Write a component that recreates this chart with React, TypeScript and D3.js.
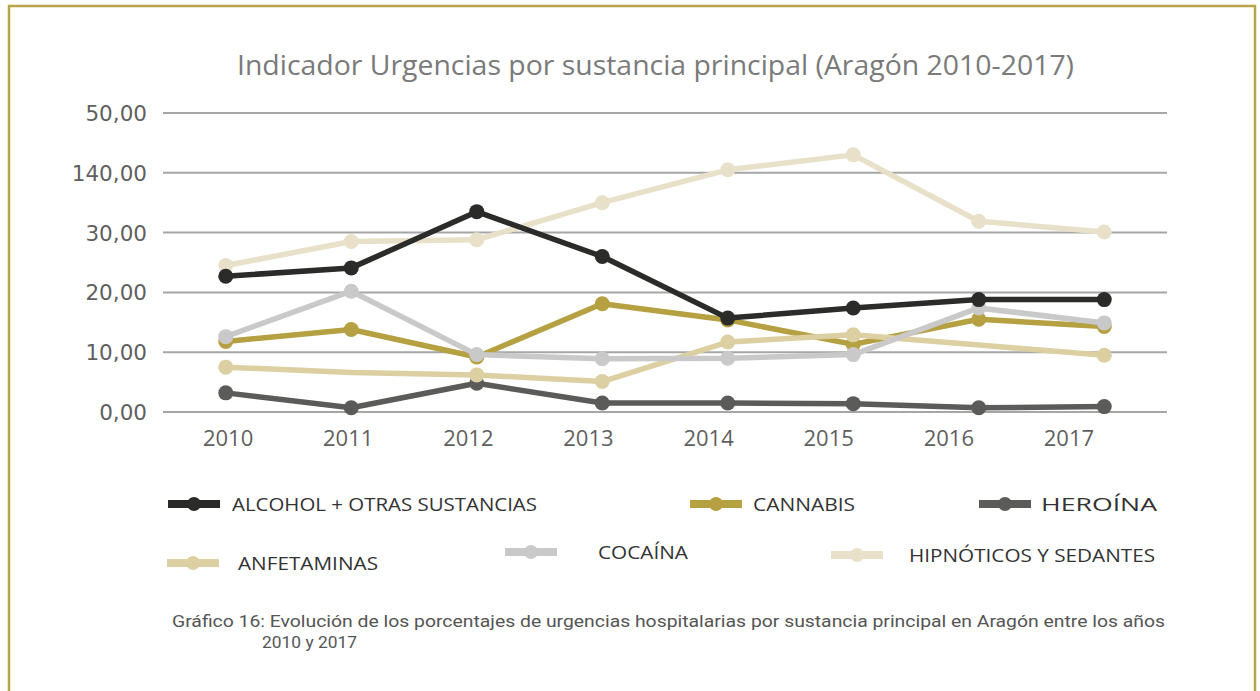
import React from "react";
import * as d3 from "d3";

const years = ["2010", "2011", "2012", "2013", "2014", "2015", "2016", "2017"];
const yTickValues = [0, 10, 20, 30, 40, 50];
const yTickLabels = ["0,00", "10,00", "20,00", "30,00", "140,00", "50,00"];

const alcohol = [22.7, 24.1, 33.5, 26.0, 15.7, 17.4, 18.8, 18.8];
const cannabis = [11.8, 13.8, 9.2, 18.1, 15.4, 11.3, 15.5, 14.3];
const heroina = [3.2, 0.7, 4.8, 1.5, 1.5, 1.4, 0.7, 0.9];
const anfetaminas = [7.5, 6.6, 6.2, 5.1, 11.7, 12.9, 11.2, 9.5];
const anfetaminasMarkers = [true, false, true, true, true, true, false, true];
const cocaina = [12.6, 20.2, 9.6, 8.9, 9.0, 9.6, 17.4, 14.9];
const hipnoticos = [24.5, 28.5, 28.8, 35.0, 40.5, 43.0, 31.9, 30.1];

const seriesNames = [
  "ALCOHOL + OTRAS SUSTANCIAS",
  "CANNABIS",
  "HEROÍNA",
  "ANFETAMINAS",
  "COCAÍNA",
  "HIPNÓTICOS Y SEDANTES",
];

const title = "Indicador Urgencias por sustancia principal (Aragón 2010-2017)";
const caption1 =
  "Gráfico 16: Evolución de los porcentajes de urgencias hospitalarias por sustancia principal en Aragón entre los años";
const caption2 = "2010 y 2017";

type Series = { name: string; values: number[]; color: string; markers?: boolean[] };

const series: Series[] = [
  { name: seriesNames[0], values: alcohol, color: "#2b2b29" },
  { name: seriesNames[1], values: cannabis, color: "#b5a042" },
  { name: seriesNames[2], values: heroina, color: "#5b5b59" },
  { name: seriesNames[3], values: anfetaminas, color: "#dccfa2", markers: anfetaminasMarkers },
  { name: seriesNames[4], values: cocaina, color: "#c9c9c9" },
  { name: seriesNames[5], values: hipnoticos, color: "#e8e0c8" },
];

// draw order (later on top)
const drawOrder = [5, 2, 1, 3, 4, 0];

// legend layout: [symbolX, y, textX, textWidth]
const legendPos: [number, number, number, number][] = [
  [168, 504, 232, 305],
  [690, 504, 753, 102],
  [979, 504, 1041, 116],
  [167, 563, 238, 140],
  [505, 552, 598, 90],
  [831, 555, 909, 246],
];

const FONT = "'Open Sans', 'Noto Sans', sans-serif";

export default function App() {
  const W = 1260;
  const H = 691;
  const x = d3.scaleBand<string>().domain(years).range([163, 1167]);
  const xLabel = d3.scaleBand<string>().domain(years).range([168, 1129]);
  const y = d3.scaleLinear().domain([0, 50]).range([412, 113]);

  const line = d3
    .line<number>()
    .x((_, i) => (x(years[i]) as number) + x.bandwidth() / 2)
    .y((d) => y(d));

  return (
    <svg
      width={W}
      height={H}
      style={{ position: "fixed", left: 0, top: 0, background: "#fff" }}
    >
      <rect x={0} y={0} width={W} height={H} fill="#fff" />
      {/* frame */}
      <path
        d={`M9,${H + 5} L9,6 L1255,6 L1255,${H + 5}`}
        fill="none"
        stroke="#b8a549"
        strokeWidth={2.5}
      />
      {/* title */}
      <text
        x={237}
        y={75}
        fontFamily={FONT}
        fontSize={27}
        fill="#7a7a7a"
        fontWeight={400}
        textLength={837}
        lengthAdjust="spacingAndGlyphs"
      >
        {title}
      </text>
      {/* gridlines */}
      {yTickValues.map((v, i) => (
        <g key={v}>
          <line x1={163} x2={1167} y1={y(v)} y2={y(v)} stroke="#a6a6a6" strokeWidth={2} />
          <text
            x={147}
            y={y(v) + 8}
            textAnchor="end"
            fontFamily="'DejaVu Sans', sans-serif"
            fontSize={21.5}
            fill="#5f5f5f"
          >
            {yTickLabels[i]}
          </text>
        </g>
      ))}
      {/* x labels */}
      {years.map((yr) => (
        <text
          key={yr}
          x={(xLabel(yr) as number) + xLabel.bandwidth() / 2}
          y={446}
          textAnchor="middle"
          fontFamily={FONT}
          fontSize={22}
          fill="#5f5f5f"
        >
          {yr}
        </text>
      ))}
      {/* series */}
      {drawOrder.map((si) => {
        const s = series[si];
        return (
          <g key={s.name}>
            <path
              d={line(s.values) as string}
              fill="none"
              stroke={s.color}
              strokeWidth={5.5}
              strokeLinejoin="round"
            />
            {s.values.map((v, i) =>
              s.markers && !s.markers[i] ? null : (
                <circle
                  key={i}
                  cx={(x(years[i]) as number) + x.bandwidth() / 2}
                  cy={y(v)}
                  r={7.5}
                  fill={s.color}
                />
              )
            )}
          </g>
        );
      })}
      {/* legend */}
      {series.map((s, i) => {
        const [lx, ly, tx, tw] = legendPos[i];
        return (
          <g key={s.name}>
            <rect x={lx} y={ly - 4} width={52} height={8} fill={s.color} />
            <circle cx={lx + 26} cy={ly} r={7} fill={s.color} />
            <text
              x={tx}
              y={ly + 6.5}
              fontFamily={FONT}
              fontSize={18}
              fill="#333"
              textLength={tw}
              lengthAdjust="spacingAndGlyphs"
            >
              {s.name}
            </text>
          </g>
        );
      })}
      {/* caption */}
      <text
        x={172}
        y={627}
        fontFamily="'Liberation Sans Narrow', 'Roboto', sans-serif"
        fontSize={16}
        fill="#555"
        textLength={993}
        lengthAdjust="spacingAndGlyphs"
      >
        {caption1}
      </text>
      <text
        x={262}
        y={648}
        fontFamily="'Liberation Sans Narrow', 'Roboto', sans-serif"
        fontSize={16}
        fill="#555"
        textLength={95}
        lengthAdjust="spacingAndGlyphs"
      >
        {caption2}
      </text>
    </svg>
  );
}
